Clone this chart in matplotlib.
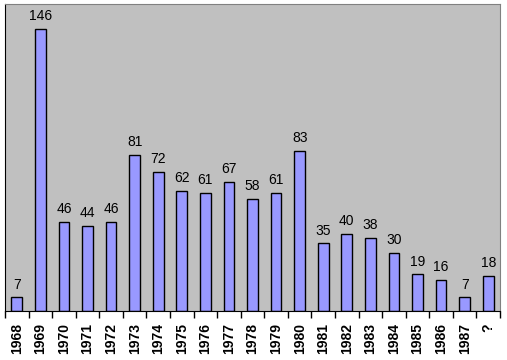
import matplotlib.pyplot as plt
import numpy as np

plt.rcParams['font.family'] = ['Liberation Sans', 'DejaVu Sans']

years = ['1968', '1969', '1970', '1971', '1972', '1973', '1974', '1975', '1976',
         '1977', '1978', '1979', '1980', '1981', '1982', '1983', '1984', '1985',
         '1986', '1987', '?']
counts = [7, 146, 46, 44, 46, 81, 72, 62, 61, 67, 58, 61, 83, 35, 40, 38, 30,
          19, 16, 7, 18]

fig = plt.figure(figsize=(5.07, 3.6), dpi=100)
ax = fig.add_axes([5/507, 49/360, 495/507, 307/360])
ax.set_facecolor('#C0C0C0')

x = np.arange(len(years))
ax.bar(x, counts, width=0.45, color='#9999FF', edgecolor='black', linewidth=1)
for xi, v in zip(x, counts):
    ax.text(xi, v + 3, str(v), ha='center', va='bottom', fontsize=10)

ax.set_xlim(-0.5, len(years) - 0.5)
ax.set_ylim(0, 159)
ax.set_yticks([])
ax.set_xticks(x)
ax.set_xticklabels(years, rotation=90, fontsize=10, fontweight='bold')
ax.tick_params(axis='x', length=0, pad=9)
ax.set_xticks(np.arange(-0.5, len(years)), minor=True)
ax.tick_params(axis='x', which='minor', length=5, width=1, direction='out')

for s in ['left', 'bottom']:
    ax.spines[s].set_color('black')
ax.spines['top'].set_color('#808080')
ax.spines['right'].set_color('#808080')

plt.savefig('out.png', dpi=100)
